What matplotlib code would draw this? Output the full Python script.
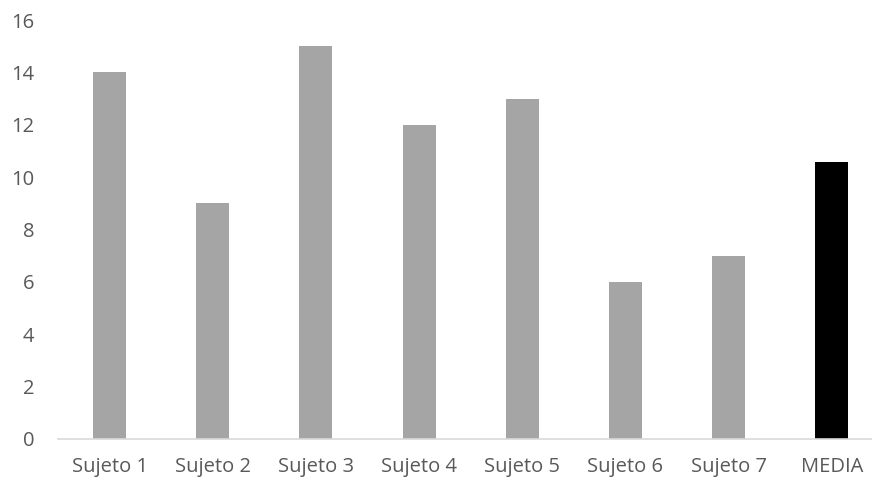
import matplotlib
matplotlib.use("Agg")
import matplotlib.pyplot as plt

# data
categorias = ["Sujeto 1", "Sujeto 2", "Sujeto 3", "Sujeto 4", "Sujeto 5", "Sujeto 6", "Sujeto 7", "MEDIA"]
valores = [14, 9, 15, 12, 13, 6, 7, 10.57]
colores = ["#A5A5A5"] * 7 + ["#000000"]
yticks = [0, 2, 4, 6, 8, 10, 12, 14, 16]

plt.rcParams['font.family'] = ['Open Sans', 'DejaVu Sans']

fig = plt.figure(figsize=(8.72, 4.84), dpi=100)
ax = fig.add_axes([58/872, 1 - 439/484, 1 - 58/872, (439 - 20)/484])

x = list(range(len(categorias)))
ax.bar(x, valores, width=0.32, color=colores)

ax.set_xlim(-0.5, 7.39)
ax.set_ylim(0, 16)
ax.set_yticks(yticks)
ax.set_xticks(x)
ax.set_xticklabels(categorias)

for s in ["top", "right", "left"]:
    ax.spines[s].set_visible(False)
ax.spines["bottom"].set_color("#D9D9D9")
ax.spines["bottom"].set_linewidth(1.2)
ax.tick_params(axis="both", length=0, colors="#595959", labelsize=14.5)
ax.tick_params(axis="y", pad=17)
ax.tick_params(axis="x", pad=13)

fig.savefig("out.png", dpi=100)
